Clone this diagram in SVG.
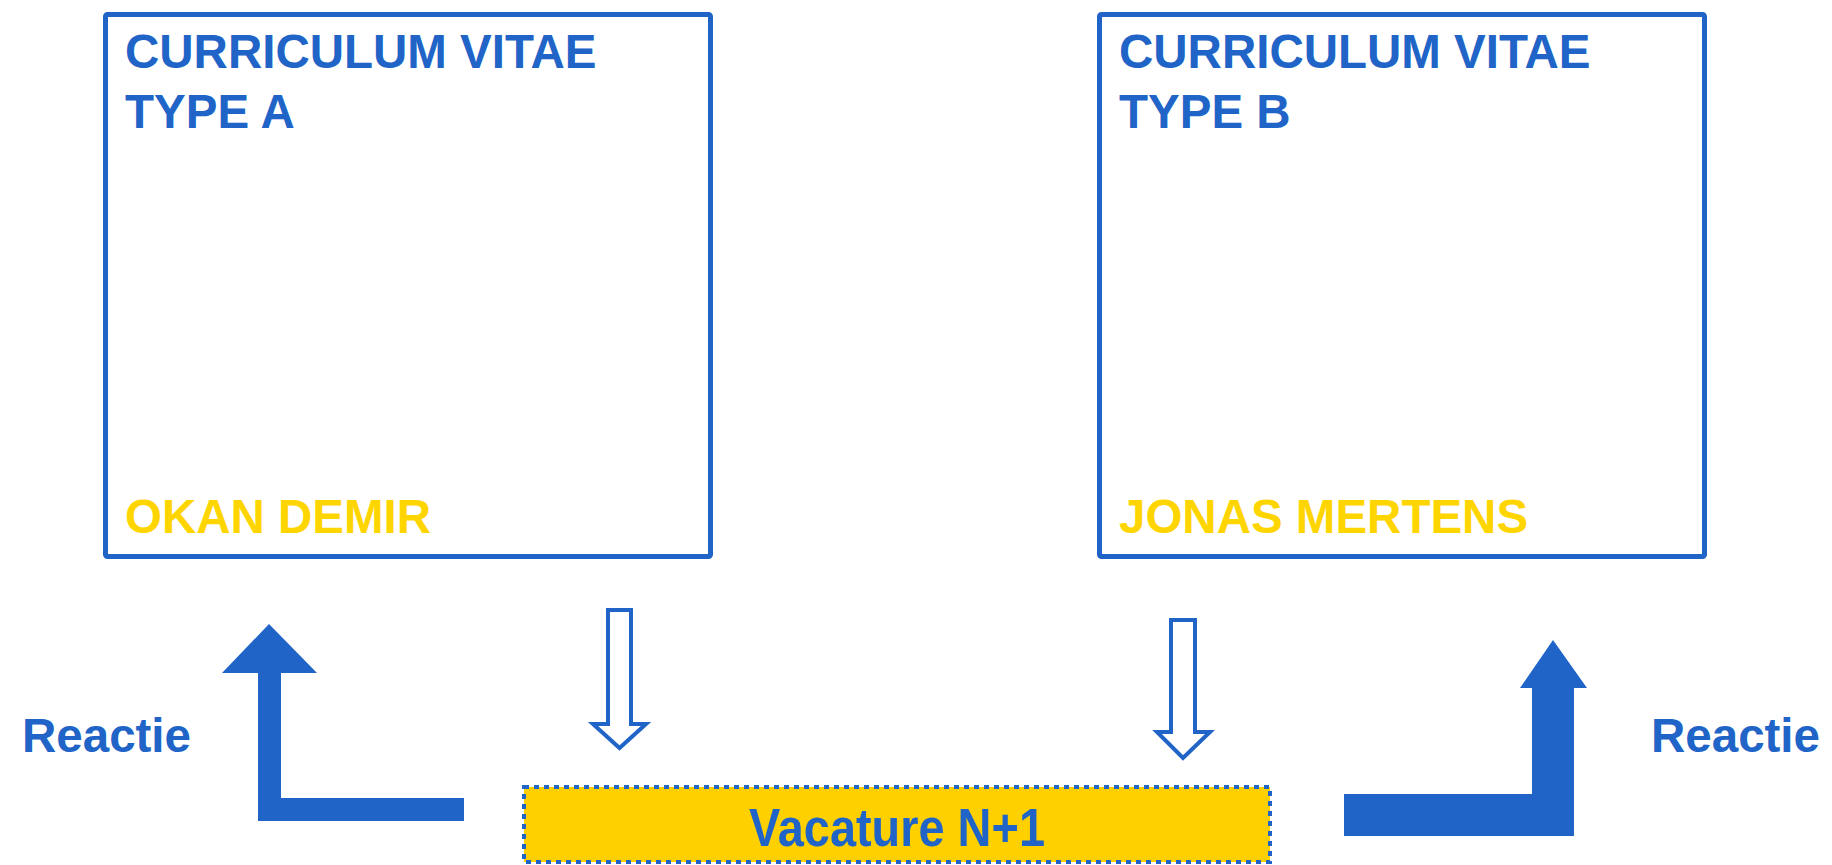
<svg xmlns="http://www.w3.org/2000/svg" width="1832" height="865" viewBox="0 0 1832 865">
<style>
.box{fill:#fff;stroke:#2064C8;stroke-width:5}
.t{font-family:"Liberation Sans",Arial,sans-serif;font-weight:bold;font-size:47.5px}
.blue{fill:#2064C8}
.gold{fill:#FFD500}
.hollow{fill:#fff;stroke:#2064C8;stroke-width:4;stroke-linejoin:miter}
.solid{fill:#2064C8}
</style>
<rect width="1832" height="865" fill="#fff"/>
<g id="cv-a">
<rect class="box" x="105.5" y="14.5" width="605" height="542" rx="2"/>
<text class="t blue" x="125" y="68">CURRICULUM VITAE</text>
<text class="t blue" x="125" y="128">TYPE A</text>
<text class="t gold" x="125" y="533">OKAN DEMIR</text>
</g>
<g id="cv-b">
<rect class="box" x="1099.5" y="14.5" width="605" height="542" rx="2"/>
<text class="t blue" x="1119" y="68">CURRICULUM VITAE</text>
<text class="t blue" x="1119" y="128">TYPE B</text>
<text class="t gold" x="1119" y="533">JONAS MERTENS</text>
</g>
<g id="vacature">
<rect x="524" y="787" width="746" height="75" fill="#FFD000" stroke="#2064C8" stroke-width="4" stroke-dasharray="5 5"/>
<text class="t blue" x="897" y="846" text-anchor="middle" style="font-size:53px" textLength="296" lengthAdjust="spacingAndGlyphs">Vacature N+1</text>
</g>
<g id="label-left">
<text class="t blue" x="22" y="752">Reactie</text>
</g>
<g id="label-right">
<text class="t blue" x="1651" y="752">Reactie</text>
</g>
<g id="connectors">
<polygon class="hollow" points="608,610 631,610 631,724 646,724 619.5,748 593,724 608,724"/>
<polygon class="hollow" points="1171,620 1195,620 1195,732 1210,732 1183,758 1157,732 1171,732"/>
<polygon class="solid" points="269,624 317,673 281,673 281,798 464,798 464,821 258,821 258,673 222,673"/>
<polygon class="solid" points="1553,640 1587,688 1574,688 1574,836 1344,836 1344,794 1532,794 1532,688 1520,688"/>
</g>
</svg>
